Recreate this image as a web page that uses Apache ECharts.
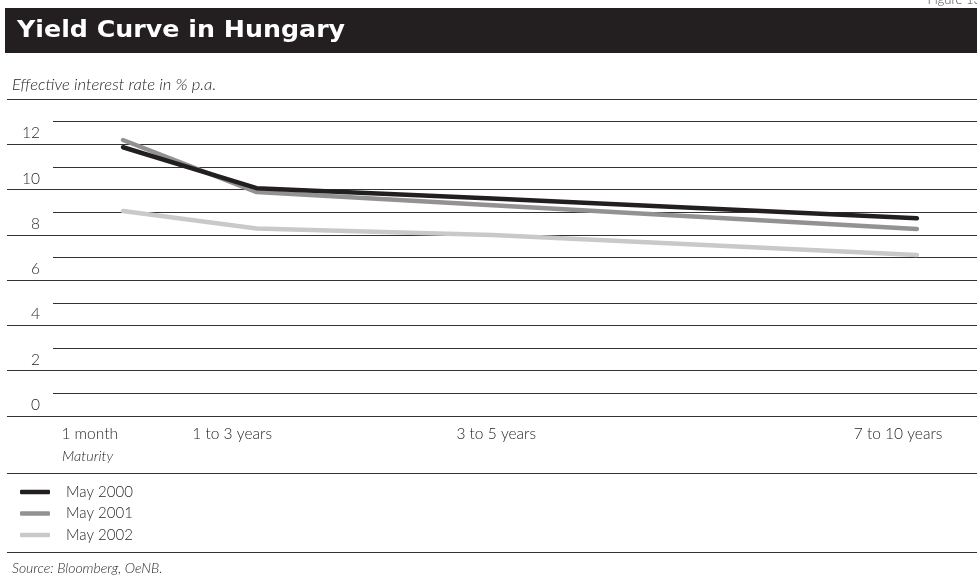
<!DOCTYPE html>
<html>
<head>
<meta charset="utf-8">
<script src="https://cdn.jsdelivr.net/npm/echarts@6/dist/echarts.min.js"></script>
<style>
  html, body { margin: 0; padding: 0; background: #fff; }
  #chart { width: 977px; height: 579px; }
</style>
</head>
<body>
<div id="chart"></div>
<script>
// Maturity of each point on the curve, in years
const maturities = [1 / 12, 1.5, 4, 8.5];

// Effective yields, % p.a.
const may2000 = [11.87, 10.06, 9.61, 8.73];
const may2001 = [12.19, 9.89, 9.31, 8.26];
const may2002 = [9.05, 8.28, 7.99, 7.11];

const seriesNames = ['May 2000', 'May 2001', 'May 2002'];

// Maturity bucket labels and where they sit on the maturity axis (years)
const bucketLabels = ['1 month', '1 to 3 years', '3 to 5 years', '7 to 10 years'];
const bucketAt = [-0.27, 1.24, 4.04, 8.30];

// Value-axis labels
const yTicks = [0, 2, 4, 6, 8, 10, 12];

const FONT = 'Lato';
const INK = '#231f20';
const RULE = '#333333';
const colors = ['#231f20', '#929292', '#c9c9c9'];

const pairs = vals => maturities.map((m, i) => [m, vals[i]]);

const chart = echarts.init(document.getElementById('chart'), null, { renderer: 'canvas' });

const plotTop = 99, plotBottom = 579 - 416;

chart.setOption({
  animation: false,
  textStyle: { fontFamily: FONT },
  grid: [
    { left: 68, right: 12.9, top: plotTop, bottom: plotBottom },   // curves
    { left: 7, right: 0, top: plotTop, bottom: plotBottom },       // major rules + labels
    { left: 53, right: 0, top: plotTop, bottom: plotBottom }       // minor rules
  ],
  xAxis: [
    {
      gridIndex: 0, type: 'value', min: -0.5, max: 9,
      axisLine: { show: false }, axisTick: { show: false }, splitLine: { show: false },
      axisLabel: {
        customValues: bucketAt,
        formatter: v => {
          const i = bucketAt.findIndex(b => Math.abs(b - v) < 1e-6);
          return i >= 0 ? bucketLabels[i] : '';
        },
        color: INK, fontFamily: FONT, fontWeight: 300, fontSize: 15.5, margin: 10
      }
    },
    { gridIndex: 1, type: 'value', min: 0, max: 1, show: false },
    { gridIndex: 2, type: 'value', min: 0, max: 1, show: false }
  ],
  yAxis: [
    { gridIndex: 0, type: 'value', min: 0, max: 14, show: false },
    {
      gridIndex: 1, type: 'value', min: 0, max: 14, interval: 2,
      axisLine: { show: false }, axisTick: { show: false },
      splitLine: { show: true, lineStyle: { color: RULE, width: 1 } },
      axisLabel: {
        inside: true, align: 'right', margin: 33,
        verticalAlign: 'bottom', padding: [0, 0, 3, 0],
        formatter: v => (yTicks.indexOf(v) >= 0 ? String(v) : ''),
        color: INK, fontFamily: FONT, fontWeight: 300, fontSize: 15.5
      }
    },
    {
      gridIndex: 2, type: 'value', min: 0, max: 14, interval: 1,
      axisLine: { show: false }, axisTick: { show: false }, axisLabel: { show: false },
      splitLine: { show: true, lineStyle: { color: ['rgba(0,0,0,0)', RULE], width: 1 } }
    }
  ],
  legend: {
    orient: 'vertical', left: 20, top: 484, padding: 0,
    data: seriesNames,
    icon: 'roundRect', itemWidth: 30, itemHeight: 4.5, itemGap: 5.5,
    textStyle: { color: INK, fontFamily: FONT, fontWeight: 300, fontSize: 15, lineHeight: 16, padding: [0, 0, 0, 11] }
  },
  series: [may2000, may2001, may2002].map((vals, i) => ({
    name: seriesNames[i],
    type: 'line',
    xAxisIndex: 0, yAxisIndex: 0,
    data: pairs(vals),
    showSymbol: false, symbol: 'none',
    z: 5 - i,
    color: colors[i],
    lineStyle: { color: colors[i], width: 4.5, cap: 'round', join: 'round' }
  })),
  graphic: [
    { type: 'rect', shape: { x: 5, y: 8, width: 972, height: 45 }, style: { fill: '#231f20' } },
    { type: 'text', x: 17, y: 31, scaleX: 1.1, style: { text: 'Yield Curve in Hungary', fill: '#fff', font: 'bold 23px "DejaVu Sans"', textVerticalAlign: 'middle' } },
    { type: 'text', x: 981, y: 6, style: { text: 'Figure 13', fill: '#444', font: '300 13px ' + FONT, textAlign: 'right', textVerticalAlign: 'bottom' } },
    { type: 'text', x: 12, y: 85, scaleX: 1.04, style: { text: 'Effective interest rate in % p.a.', fill: INK, font: 'italic 300 16px ' + FONT, textVerticalAlign: 'middle' } },
    { type: 'line', shape: { x1: 7, y1: 99.5, x2: 977, y2: 99.5 }, style: { stroke: RULE, lineWidth: 1 } },
    { type: 'text', x: 62, y: 456, style: { text: 'Maturity', fill: INK, font: 'italic 300 14.5px ' + FONT, textVerticalAlign: 'middle' } },
    { type: 'line', shape: { x1: 7, y1: 473.5, x2: 977, y2: 473.5 }, style: { stroke: RULE, lineWidth: 1 } },
    { type: 'line', shape: { x1: 7, y1: 552.5, x2: 977, y2: 552.5 }, style: { stroke: RULE, lineWidth: 1 } },
    { type: 'text', x: 12, y: 568, style: { text: 'Source: Bloomberg, OeNB.', fill: INK, font: 'italic 300 14px ' + FONT, textVerticalAlign: 'middle' } }
  ]
});
</script>
</body>
</html>
